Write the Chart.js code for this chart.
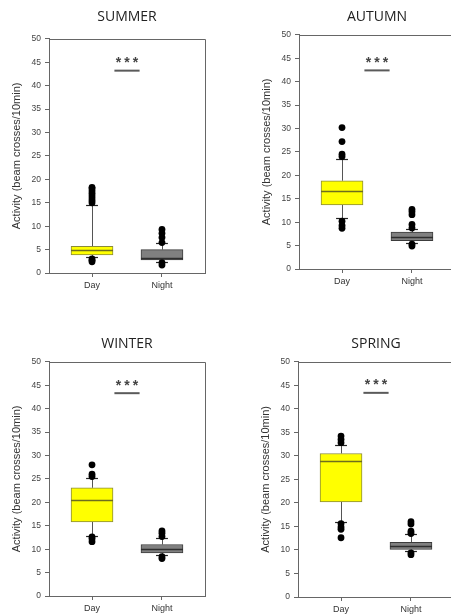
<!DOCTYPE html>
<html>
<head>
<meta charset="utf-8">
<script src="https://cdn.jsdelivr.net/npm/chart.js@4"></script>
<style>
  html, body { margin: 0; padding: 0; background: #fff; overflow: hidden; }
  body { width: 451px; height: 615px; position: relative; }
  .panel { position: absolute; width: 254px; height: 295px; }
</style>
</head>
<body>
<div class="panel" style="left:0px;top:0px"><canvas id="p0"></canvas></div>
<div class="panel" style="left:250px;top:-4px"><canvas id="p1"></canvas></div>
<div class="panel" style="left:0px;top:323px"><canvas id="p2"></canvas></div>
<div class="panel" style="left:249px;top:324px"><canvas id="p3"></canvas></div>
<script>
// Activity counts per season, Day vs Night box plots
const seasons = ['SUMMER', 'AUTUMN', 'WINTER', 'SPRING'];
const groups = ['Day', 'Night'];
const yTicks = [0, 5, 10, 15, 20, 25, 30, 35, 40, 45, 50];

// each row: [Day, Night]
const whiskerLow  = [[3.35, 2.3], [10.8, 5.6], [12.9, 8.7], [16.0, 9.8]];
const quartile1   = [[3.85, 2.78], [13.66, 6.05], [15.8, 9.2], [20.2, 10.1]];
const median      = [[4.84, 3.3], [16.7, 6.8], [20.5, 10.1], [29.0, 10.9]];
const quartile3   = [[5.7, 5.0], [18.85, 7.9], [23.1, 11.0], [30.5, 11.6]];
const whiskerHigh = [[14.5, 6.3], [23.5, 8.5], [25.1, 12.3], [32.4, 13.3]];

const dayOutliers = [
  [2.4, 2.7, 3.0, 15.0, 15.5, 16.0, 16.5, 17.0, 17.5, 18.0, 18.3],
  [8.7, 9.3, 10.2, 24.0, 24.5, 27.2, 30.2],
  [11.6, 12.2, 12.6, 25.5, 26.0, 28.0],
  [12.6, 14.4, 14.9, 15.6, 32.8, 33.5, 34.2]
];
const nightOutliers = [
  [1.7, 2.2, 6.5, 7.6, 8.5, 9.3],
  [4.9, 5.3, 8.75, 9.5, 11.6, 12.2, 12.7],
  [8.0, 8.4, 12.7, 13.4, 13.9],
  [9.0, 9.4, 13.5, 14.0, 15.5, 16.0]
];

const sigLabel = ['*', '*', '*'];
const sigHeight = [43.2, 42.4, 43.3, 43.4];

const boxFill = ['#ffff00', '#808080'];
const boxEdge = ['#8a8a3a', '#3c3c3c'];
const medianEdge = ['#6e6e1e', '#2e2e2e'];
const AXIS = '#666666';

// spacing above/below each panel title
const titlePadding = [
  { top: 9, bottom: 13 },
  { top: 13, bottom: 9 },
  { top: 13, bottom: 9 },
  { top: 12, bottom: 9 }
];

// whiskers under the boxes, medians, frame and significance bar on top
const boxPlotPlugin = {
  id: 'boxPlot',
  beforeDatasetsDraw(chart, args, opts) {
    const s = opts.season;
    const { ctx, scales: { x, y } } = chart;
    ctx.save();
    groups.forEach((g, i) => {
      const px = Math.round(x.getPixelForValue(i)) + 0.5;
      ctx.strokeStyle = '#555';
      ctx.lineWidth = 1;
      ctx.beginPath();
      ctx.moveTo(px, y.getPixelForValue(whiskerLow[s][i]));
      ctx.lineTo(px, y.getPixelForValue(quartile1[s][i]));
      ctx.moveTo(px, y.getPixelForValue(quartile3[s][i]));
      ctx.lineTo(px, y.getPixelForValue(whiskerHigh[s][i]));
      ctx.stroke();
      ctx.strokeStyle = '#222';
      ctx.lineWidth = 1.2;
      [whiskerLow[s][i], whiskerHigh[s][i]].forEach(v => {
        const py = Math.round(y.getPixelForValue(v)) + 0.5;
        ctx.beginPath();
        ctx.moveTo(x.getPixelForValue(i - 0.085), py);
        ctx.lineTo(x.getPixelForValue(i + 0.085), py);
        ctx.stroke();
      });
    });
    ctx.restore();
  },
  afterDatasetsDraw(chart, args, opts) {
    const s = opts.season;
    const { ctx, chartArea, scales: { x, y } } = chart;
    const boxes = chart.getDatasetMeta(0).data;
    ctx.save();
    // median lines
    ctx.lineWidth = 1.3;
    boxes.forEach((bar, i) => {
      const py = Math.round(y.getPixelForValue(median[s][i])) + 0.5;
      ctx.strokeStyle = medianEdge[i];
      ctx.beginPath();
      ctx.moveTo(bar.x - bar.width / 2, py);
      ctx.lineTo(bar.x + bar.width / 2, py);
      ctx.stroke();
    });
    // top and right frame lines
    ctx.strokeStyle = AXIS;
    ctx.lineWidth = 1;
    ctx.beginPath();
    ctx.moveTo(chartArea.left, Math.round(chartArea.top) + 0.5);
    ctx.lineTo(Math.round(chartArea.right) + 0.5, Math.round(chartArea.top) + 0.5);
    ctx.lineTo(Math.round(chartArea.right) + 0.5, chartArea.bottom);
    ctx.stroke();
    // significance bar with three stars
    const sy = y.getPixelForValue(sigHeight[s]);
    ctx.strokeStyle = '#5a5a5a';
    ctx.lineWidth = 2;
    ctx.beginPath();
    ctx.moveTo(x.getPixelForValue(0.32), sy);
    ctx.lineTo(x.getPixelForValue(0.68), sy);
    ctx.stroke();
    ctx.fillStyle = '#444';
    ctx.font = 'bold 14px "Liberation Sans", Arial, sans-serif';
    ctx.textAlign = 'center';
    ctx.textBaseline = 'alphabetic';
    sigLabel.forEach((star, k) => {
      ctx.fillText(star, x.getPixelForValue(0.378 + 0.122 * k), sy - 3.5);
    });
    ctx.restore();
  }
};

function makeChart(s) {
  const ctx = document.getElementById('p' + s);
  return new Chart(ctx, {
    type: 'bar',
    data: {
      datasets: [
        {
          type: 'bar',
          data: groups.map((g, i) => ({ x: i, y: [quartile1[s][i], quartile3[s][i]] })),
          backgroundColor: boxFill,
          borderColor: boxEdge,
          borderWidth: 1,
          borderSkipped: false,
          barThickness: 42,
          order: 2
        },
        {
          type: 'scatter',
          data: [
            ...dayOutliers[s].map(v => ({ x: 0, y: v })),
            ...nightOutliers[s].map(v => ({ x: 1, y: v }))
          ],
          backgroundColor: '#000',
          borderWidth: 0,
          pointRadius: 3.4,
          order: 1
        }
      ]
    },
    options: {
      responsive: true,
      maintainAspectRatio: false,
      animation: false,
      events: [],
      layout: { padding: { left: 0, right: 49, top: 0, bottom: 0 } },
      scales: {
        x: {
          type: 'linear',
          offset: false,
          min: -0.615,
          max: 1.615,
          afterBuildTicks: sc => { sc.ticks = groups.map((g, i) => ({ value: i })); },
          afterFit: sc => { sc.height = 22; },
          ticks: {
            callback: v => groups[v],
            color: '#333',
            font: { family: '"Liberation Sans", Arial, sans-serif', size: 9 },
            padding: 3,
            maxRotation: 0
          },
          grid: { offset: false, drawOnChartArea: false, drawTicks: true, tickLength: 4, color: AXIS },
          border: { color: AXIS, width: 1 }
        },
        y: {
          min: 0,
          max: 50,
          afterBuildTicks: sc => { sc.ticks = yTicks.map(v => ({ value: v })); },
          afterFit: sc => { sc.width = 49; },
          ticks: {
            color: '#444',
            font: { family: '"Liberation Sans", Arial, sans-serif', size: 8.5 },
            padding: 4
          },
          grid: { drawOnChartArea: false, drawTicks: true, tickLength: 4, color: AXIS },
          border: { color: AXIS, width: 1 },
          title: {
            display: true,
            text: 'Activity (beam crosses/10min)',
            color: '#333',
            font: { family: '"Liberation Sans", Arial, sans-serif', size: 11 },
            padding: { top: 10, bottom: 0 }
          }
        }
      },
      plugins: {
        legend: { display: false },
        tooltip: { enabled: false },
        title: {
          display: true,
          fullSize: false,
          text: seasons[s],
          color: '#222',
          font: { family: '"Open Sans", sans-serif', size: 14, weight: 'normal' },
          padding: titlePadding[s]
        },
        boxPlot: { season: s }
      }
    },
    plugins: [boxPlotPlugin]
  });
}

seasons.forEach((name, s) => makeChart(s));
</script>
</body>
</html>
